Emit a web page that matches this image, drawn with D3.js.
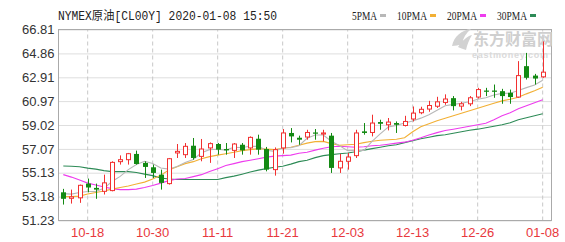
<!DOCTYPE html>
<html>
<head>
<meta charset="utf-8">
<script src="https://cdn.jsdelivr.net/npm/d3@7"></script>
<style>
    body { margin: 0; background: #fff; }
    svg text { font-family: "Liberation Sans", Arial, sans-serif; }
</style>
</head>
<body>
<div id="chart"></div>
<script>
// 日期 (trading days)
const dates = [
    "10-15","10-16","10-17","10-18","10-21","10-22","10-23","10-24","10-25","10-28",
    "10-29","10-30","10-31","11-01","11-04","11-05","11-06","11-07","11-08","11-11",
    "11-12","11-13","11-14","11-15","11-18","11-19","11-20","11-21","11-22","11-25",
    "11-26","11-27","11-28","11-29","12-02","12-03","12-04","12-05","12-06","12-09",
    "12-10","12-11","12-12","12-13","12-16","12-17","12-18","12-19","12-20","12-23",
    "12-24","12-26","12-27","12-30","12-31","01-02","01-03","01-06","01-07","01-08"
];

const opens = [
    53.53, 53.04, 53.08, 54.24, 53.89, 53.61, 53.67, 56.03, 56.19, 56.66,
    55.93, 55.57, 54.97, 54.24, 56.74, 56.60, 57.33, 56.46, 57.15, 57.47,
    57.06, 56.95, 57.41, 57.15, 57.90, 57.06, 55.38, 57.15, 58.37, 57.98,
    58.04, 58.41, 58.28, 58.15, 55.52, 56.06, 56.52, 58.50, 58.41, 59.26,
    59.04, 59.18, 58.98, 59.51, 60.02, 60.32, 60.55, 60.86, 61.21, 60.56,
    60.75, 61.30, 61.83, 61.83, 61.78, 61.65, 61.30, 63.82, 63.05, 62.95
];
const highs = [
    53.81, 53.75, 54.16, 54.65, 54.24, 54.97, 56.06, 56.54, 56.74, 56.93,
    56.06, 55.79, 55.38, 56.33, 57.47, 57.55, 57.96, 57.88, 57.60, 57.55,
    57.55, 57.55, 57.55, 58.09, 58.23, 57.23, 57.19, 58.69, 58.77, 58.15,
    58.63, 58.69, 58.63, 58.37, 56.66, 56.74, 58.63, 59.18, 59.86, 59.45,
    59.59, 59.31, 59.77, 60.53, 60.51, 60.99, 61.32, 61.52, 61.38, 60.91,
    61.38, 62.05, 62.05, 62.32, 61.97, 61.91, 64.23, 64.90, 63.19, 65.84
];
const lows = [
    52.53, 52.61, 52.67, 53.53, 53.00, 53.35, 53.61, 55.79, 55.79, 55.79,
    54.70, 54.70, 53.75, 54.16, 56.33, 56.33, 56.19, 56.06, 55.93, 56.60,
    56.60, 56.33, 56.60, 56.60, 56.60, 55.24, 54.89, 56.68, 57.60, 57.41,
    57.82, 57.82, 57.68, 55.11, 55.11, 55.38, 56.33, 58.23, 58.09, 58.63,
    58.58, 58.37, 58.90, 59.31, 59.90, 60.10, 60.41, 60.67, 60.21, 60.21,
    60.56, 61.18, 61.38, 61.24, 60.75, 60.75, 61.24, 62.73, 62.32, 62.87
];
const closes = [
    53.00, 53.16, 54.10, 53.92, 53.75, 54.30, 55.97, 56.19, 56.68, 55.84,
    55.60, 55.11, 54.30, 56.27, 56.87, 57.28, 56.33, 57.06, 57.50, 57.01,
    56.95, 57.47, 56.95, 58.01, 57.01, 55.38, 57.01, 58.37, 58.09, 57.82,
    58.41, 58.31, 58.37, 55.52, 56.06, 56.41, 58.37, 58.37, 59.18, 59.12,
    59.26, 59.04, 59.31, 59.99, 60.30, 60.61, 60.91, 61.14, 60.56, 60.75,
    61.24, 61.91, 61.73, 61.73, 61.38, 61.30, 63.05, 62.87, 62.81, 63.33
];

// 均线 (moving averages as drawn)
const ma5 = [
    53.42, 53.38, 53.52, 53.60, 53.59, 53.85, 54.41, 54.83, 55.38, 55.80,
    56.06, 55.88, 55.51, 55.42, 55.63, 55.97, 56.21, 56.76, 57.01, 57.04,
    56.97, 57.20, 57.18, 57.28, 57.28, 56.96, 56.87, 57.16, 57.17, 57.33,
    57.94, 58.20, 58.20, 57.69, 57.33, 56.93, 56.95, 56.95, 57.68, 58.29,
    58.86, 58.99, 59.18, 59.34, 59.58, 59.85, 60.22, 60.59, 60.70, 60.79,
    60.92, 61.12, 61.24, 61.47, 61.60, 61.61, 61.84, 62.07, 62.28, 62.67
];
const ma10 = [
    53.18, 53.18, 53.22, 53.39, 53.51, 53.63, 53.79, 53.92, 54.04, 54.20,
    54.36, 54.61, 54.93, 55.34, 55.62, 55.87, 56.03, 56.27, 56.44, 56.56,
    56.68, 56.80, 56.93, 57.01, 57.09, 57.05, 57.01, 57.13, 57.21, 57.37,
    57.54, 57.66, 57.68, 57.50, 57.37, 57.41, 57.45, 57.58, 57.70, 57.78,
    57.82, 57.86, 57.98, 58.47, 58.88, 59.12, 59.37, 59.57, 59.77, 59.98,
    60.18, 60.38, 60.59, 60.79, 60.99, 61.12, 61.28, 61.56, 61.81, 62.09
];
const ma20 = [
    54.97, 54.77, 54.53, 54.28, 54.12, 53.96, 53.83, 53.75, 53.75, 53.79,
    53.92, 54.08, 54.28, 54.48, 54.61, 54.65, 54.81, 54.97, 55.22, 55.46,
    55.71, 55.87, 56.03, 56.15, 56.27, 56.40, 56.48, 56.52, 56.56, 56.72,
    56.80, 56.97, 57.13, 57.25, 57.29, 57.25, 57.21, 57.25, 57.33, 57.37,
    57.45, 57.54, 57.62, 57.78, 57.98, 58.20, 58.40, 58.57, 58.68, 58.80,
    58.92, 59.04, 59.16, 59.45, 59.77, 60.02, 60.34, 60.59, 60.83, 61.08
];
const ma30 = [
    55.68, 55.65, 55.62, 55.50, 55.42, 55.30, 55.22, 55.22, 55.22, 55.14,
    55.01, 54.89, 54.69, 54.61, 54.57, 54.57, 54.57, 54.57, 54.57, 54.57,
    54.73, 54.85, 55.01, 55.18, 55.34, 55.46, 55.58, 55.66, 55.83, 56.03,
    56.15, 56.36, 56.52, 56.60, 56.68, 56.74, 56.84, 56.97, 57.09, 57.21,
    57.33, 57.41, 57.58, 57.74, 57.90, 58.02, 58.15, 58.23, 58.35, 58.47,
    58.59, 58.68, 58.80, 58.92, 59.04, 59.20, 59.45, 59.61, 59.77, 59.94
];

const yTicks = [51.23, 53.18, 55.13, 57.07, 59.02, 60.97, 62.91, 64.86, 66.81];
const xTickDates = ["10-18", "10-30", "11-11", "11-21", "12-03", "12-13", "12-26", "01-08"];
const maNames = ["5PMA", "10PMA", "20PMA", "30PMA"];
const maColors = ["#b8b8b8", "#f2b035", "#ee3cee", "#2e8b57"];
const title = "NYMEX原油[CL00Y] 2020-01-08 15:50";

const upColor = "#f23030";
const downColor = "#138a13";

const width = 565, height = 242;
const margin = { top: 29.5, right: 13.5, bottom: 21.5, left: 58.5 };
const plotW = width - margin.left - margin.right;
const plotH = height - margin.top - margin.bottom;

const svg = d3.select("#chart").append("svg")
    .attr("width", width)
    .attr("height", height);

const candles = dates.map((d, i) => ({
    date: d, open: opens[i], high: highs[i], low: lows[i], close: closes[i]
}));

// Escalas
const x = d3.scaleBand()
    .domain(dates)
    .range([59.24, 546.74])
    .padding(0);

const y = d3.scaleLinear()
    .domain([51.23, 66.81])
    .range([margin.top + plotH, margin.top]);

const cx = d => Math.round(x(d) + x.bandwidth() / 2) + 0.5;

// 水平网格 + Y 轴标签
const yAxis = svg.append("g")
    .attr("transform", `translate(${margin.left},0)`)
    .call(d3.axisLeft(y).tickValues(yTicks).tickFormat(d3.format(".2f"))
        .tickSize(-plotW).tickPadding(4));
yAxis.select(".domain").remove();
yAxis.selectAll("line").attr("stroke", "#dedede");
yAxis.selectAll("text").attr("fill", "#333").style("font-size", "13px");

// 竖向虚线 + X 轴标签
const xAxis = svg.append("g")
    .attr("transform", `translate(0,${margin.top + plotH})`)
    .call(d3.axisBottom(x).tickValues(xTickDates).tickSize(-plotH).tickPadding(7));
xAxis.select(".domain").remove();
xAxis.selectAll("line").attr("stroke", "#c8c8c8").attr("stroke-dasharray", "4,3");
xAxis.selectAll("text").attr("fill", "#e8383d").style("font-size", "13px");

// 边框
svg.append("rect")
    .attr("x", margin.left).attr("y", margin.top)
    .attr("width", plotW).attr("height", plotH)
    .attr("fill", "none").attr("stroke", "#aaa");

// 水印
const wm = svg.append("g").attr("fill", "#d2d2d2");
wm.append("path")
    .attr("d", "M452,46 C454,36 462,30 471,29 C466,33 463,38 462,44 C459,45 455,46 452,46 Z M458,47 C462,41 467,36 472,35 C469,40 467,45 466,50 C463,49 460,48 458,47 Z");
wm.append("text").attr("x", 473).attr("y", 45)
    .style("font-family", "'Noto Sans CJK SC', sans-serif")
    .style("font-size", "16px").style("font-weight", "bold")
    .attr("fill", "#cfcfcf").text("东方财富网");
wm.append("text").attr("x", 472).attr("y", 58)
    .style("font-size", "9px").style("font-weight", "bold")
    .attr("fill", "#dadada").attr("textLength", 76).text("eastmoney.com");

// 均线
const maSeries = [ma5, ma10, ma20, ma30];
const line = d3.line()
    .x((v, i) => x(dates[i]) + x.bandwidth() / 2)
    .y(v => y(v));
svg.append("g").selectAll("path")
    .data(maSeries.slice().reverse())
    .join("path")
    .attr("d", d => line(d))
    .attr("fill", "none")
    .attr("stroke", (d, i) => maColors[maColors.length - 1 - i])
    .attr("stroke-width", 1.1);

// K线
const k = svg.append("g").selectAll("g")
    .data(candles)
    .join("g");

k.append("line")
    .attr("x1", d => cx(d.date)).attr("x2", d => cx(d.date))
    .attr("y1", d => y(d.high)).attr("y2", d => y(d.low))
    .attr("stroke", d => d.close >= d.open ? upColor : downColor);

k.append("rect")
    .attr("x", d => d.close >= d.open ? cx(d.date) - 2 : cx(d.date) - 2.5)
    .attr("width", d => d.close >= d.open ? 4 : 5)
    .attr("y", d => y(Math.max(d.open, d.close)))
    .attr("height", d => Math.max(1, Math.abs(y(d.open) - y(d.close))))
    .attr("fill", d => d.close >= d.open ? "#fff" : downColor)
    .attr("stroke", d => d.close >= d.open ? upColor : "none");

// 标题
svg.append("text")
    .attr("x", 58).attr("y", 20)
    .attr("textLength", 219).attr("lengthAdjust", "spacingAndGlyphs")
    .style("font-family", "'Liberation Mono', 'Noto Sans CJK SC', monospace")
    .style("font-size", "12px")
    .attr("fill", "#222")
    .text(title);

// 图例
const legendX = [352, 397, 447, 497];
const legendW = [25, 30, 30, 30];
const legend = svg.append("g").selectAll("g")
    .data(maNames)
    .join("g");
legend.append("text")
    .attr("x", (d, i) => legendX[i]).attr("y", 20)
    .attr("textLength", (d, i) => legendW[i]).attr("lengthAdjust", "spacingAndGlyphs")
    .style("font-family", "'Liberation Serif', serif")
    .style("font-size", "12px")
    .attr("fill", "#222")
    .text(d => d);
legend.append("rect")
    .attr("x", (d, i) => legendX[i] + legendW[i] + 3)
    .attr("y", 14).attr("width", 6).attr("height", 3)
    .attr("fill", (d, i) => maColors[i]);
</script>
</body>
</html>
